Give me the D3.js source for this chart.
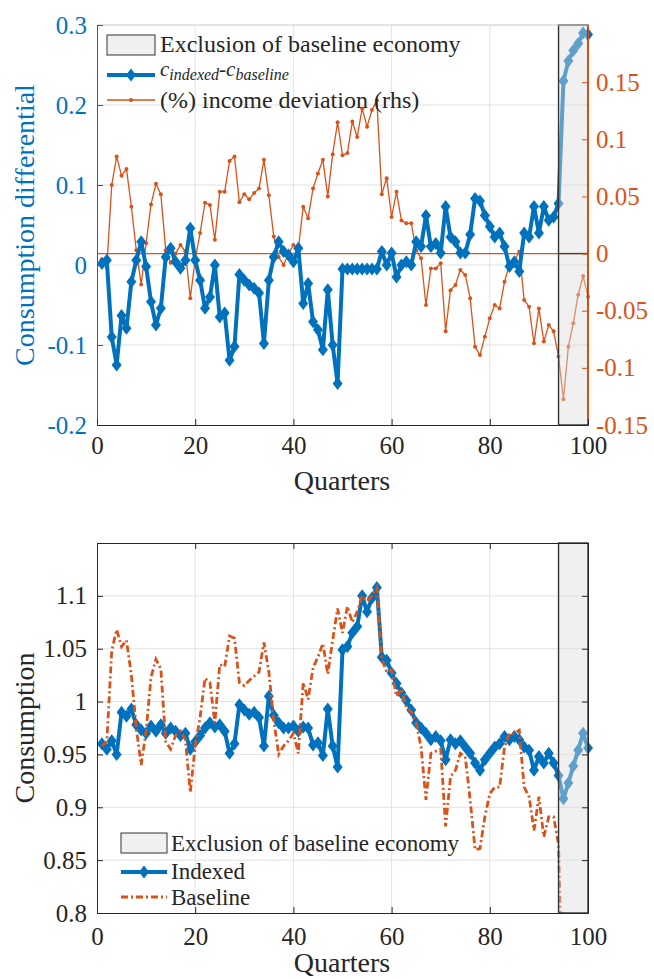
<!DOCTYPE html>
<html>
<head>
<meta charset="utf-8">
<script src="https://cdn.jsdelivr.net/npm/d3@7"></script>
<style>
  body { margin: 0; background: #fff; }
</style>
</head>
<body>
<div id="chart"></div>
<script>
// quarters 1..100
const quarters = d3.range(1, 101);

// top panel: c_indexed - c_baseline (left axis)
const diffVals = [
  0.002, 0.006, -0.09, -0.125, -0.063, -0.079, -0.021, 0.006, 0.029, -0.002,
  -0.046, -0.075, -0.054, 0.01, 0.021, 0.004, -0.004, 0.006, 0.046, 0.006,
  -0.019, -0.054, -0.04, 0.0, -0.065, -0.06, -0.119, -0.102, -0.012, -0.019,
  -0.025, -0.029, -0.035, -0.098, -0.019, 0.01, 0.029, 0.017, 0.0125, 0.004,
  0.021, -0.048, -0.023, -0.071, -0.081, -0.106, -0.031, -0.1, -0.148, -0.005,
  -0.005, -0.005, -0.005, -0.005, -0.005, -0.005, -0.005, 0.017, 0.0, 0.015,
  -0.015, 0.0, 0.004, 0.0, 0.029, 0.023, 0.062, 0.023, 0.027, 0.015,
  0.073, 0.035, 0.029, 0.015, 0.015, 0.038, 0.083, 0.08, 0.062, 0.048,
  0.035, 0.04, 0.023, -0.002, 0.004, -0.008, 0.04, 0.035, 0.073, 0.04,
  0.073, 0.056, 0.06, 0.077, 0.23, 0.255, 0.268, 0.277, 0.29, 0.288
];

// top panel: (%) income deviation (right axis)
const incomeDev = [
  -0.005, -0.012, 0.06, 0.085, 0.068, 0.074, 0.041, 0.003, -0.027, 0.009,
  0.043, 0.061, 0.052, 0.003, -0.008, 0.0, 0.0075, 0.002, -0.039, -0.005,
  0.018, 0.0445, 0.0425, 0.012, 0.054, 0.054, 0.081, 0.085, 0.045, 0.052,
  0.0475, 0.053, 0.057, 0.082, 0.051, 0.015, -0.003, -0.01, 0.0, 0.0075,
  0.004, 0.041, 0.031, 0.057, 0.07, 0.082, 0.05, 0.087, 0.115, 0.086,
  0.088, 0.1155, 0.102, 0.127, 0.111, 0.1256, 0.134, 0.052, 0.066, 0.032,
  0.054, 0.029, 0.0265, 0.0265, 0.003, -0.004, -0.045, -0.013, -0.013, -0.0085,
  -0.068, -0.032, -0.0275, -0.0144, -0.0187, -0.039, -0.0815, -0.0887, -0.0727, -0.0566,
  -0.045, -0.048, -0.0246, -0.01, -0.0066, 0.0017, -0.0406, -0.0465, -0.0785, -0.048,
  -0.077, -0.0625, -0.068, -0.09, -0.1275, -0.0815, -0.061, -0.036, -0.0196, -0.0377
];

// bottom panel: consumption, indexed economy
const indexedVals = [
  0.960, 0.955, 0.963, 0.950, 0.990, 0.986, 0.993, 0.978, 0.973, 0.970,
  0.977, 0.972, 0.978, 0.970, 0.975, 0.972, 0.968, 0.970, 0.955, 0.962,
  0.968, 0.975, 0.980, 0.976, 0.978, 0.972, 0.951, 0.960, 0.997, 0.992,
  0.988, 0.990, 0.985, 0.958, 1.005, 0.987, 0.980, 0.975, 0.975, 0.977,
  0.972, 0.976, 0.975, 0.959, 0.961, 0.949, 0.993, 0.958, 0.938, 1.049,
  1.052, 1.065, 1.071, 1.100, 1.085, 1.098, 1.108, 1.042, 1.039, 1.027,
  1.017, 1.008, 1.001, 0.992, 0.980, 0.975, 0.970, 0.964, 0.967, 0.963,
  0.945, 0.964, 0.960, 0.963, 0.957, 0.951, 0.942, 0.935, 0.945, 0.951,
  0.957, 0.960, 0.967, 0.964, 0.967, 0.964, 0.957, 0.954, 0.935, 0.948,
  0.942, 0.951, 0.942, 0.930, 0.908, 0.923, 0.939, 0.954, 0.970, 0.956
];

// bottom panel: consumption, baseline economy (collapses after q94)
const baselineVals = [
  0.958, 0.962, 1.048, 1.068, 1.052, 1.058, 1.025, 0.975, 0.940, 0.972,
  1.023, 1.040, 1.031, 0.962, 0.955, 0.968, 0.972, 0.964, 0.914, 0.958,
  0.985, 1.022, 1.018, 0.980, 1.035, 1.033, 1.062, 1.060, 1.018, 1.015,
  1.020, 1.024, 1.028, 1.056, 1.028, 0.982, 0.950, 0.958, 0.963, 0.970,
  0.951, 1.018, 1.002, 1.032, 1.042, 1.055, 1.026, 1.058, 1.088, 1.065,
  1.090, 1.075, 1.085, 1.100, 1.095, 1.100, 1.108, 1.040, 1.028, 1.030,
  1.005, 1.012, 0.995, 0.990, 0.980, 0.957, 0.907, 0.951, 0.953, 0.955,
  0.882, 0.929, 0.935, 0.951, 0.948, 0.907, 0.860, 0.861, 0.891, 0.913,
  0.919, 0.919, 0.957, 0.970, 0.970, 0.973, 0.919, 0.910, 0.878, 0.910,
  0.872, 0.891, 0.891, 0.865, 0.680
];

// excluded window (quarters)
const exclusion = [94, 100];

// ticks
const xTicks = [0, 20, 40, 60, 80, 100];
const topLeftTicks = [-0.2, -0.1, 0, 0.1, 0.2, 0.3];
const topLeftLabels = ["-0.2", "-0.1", "0", "0.1", "0.2", "0.3"];
const topRightTicks = [-0.15, -0.1, -0.05, 0, 0.05, 0.1, 0.15];
const topRightLabels = ["-0.15", "-0.1", "-0.05", "0", "0.05", "0.1", "0.15"];
const botTicks = [0.8, 0.85, 0.9, 0.95, 1, 1.05, 1.1, 1.15];
const botLabels = ["0.8", "0.85", "0.9", "0.95", "1", "1.05", "1.1", ""];

const blue = "#0072BD", orange = "#D95319", dark = "#262626", gridCol = "#e2e2e2";
const patchFill = "#dcdcdc", patchAlpha = 0.43, patchEdge = "#333";
const diamond = "M0,-6.5L5,0L0,6.5L-5,0Z";
const serif = "'Liberation Serif', 'DejaVu Serif', serif";

const svg = d3.select("#chart")
  .append("svg")
  .attr("width", 654)
  .attr("height", 979);

const x = d3.scaleLinear().domain([0, 100]).range([97, 588]);

// ---------- top panel ----------
const yL = d3.scaleLinear().domain([-0.2, 0.3]).range([425, 25]);
const yR = d3.scaleLinear().domain([-0.15, 0.2]).range([425, 25]);
const topG = svg.append("g");

// grid
topG.append("g").selectAll("line").data(xTicks.slice(1, -1)).enter().append("line")
  .attr("x1", d => x(d)).attr("x2", d => x(d)).attr("y1", 25).attr("y2", 425)
  .attr("stroke", gridCol);
topG.append("g").selectAll("line").data(topLeftTicks.slice(1, -1)).enter().append("line")
  .attr("x1", 97).attr("x2", 588).attr("y1", d => yL(d)).attr("y2", d => yL(d))
  .attr("stroke", gridCol);

// rhs zero line
topG.append("line")
  .attr("x1", 97).attr("x2", 588).attr("y1", yR(0)).attr("y2", yR(0))
  .attr("stroke", orange).attr("stroke-width", 1.2);

// income deviation
const lineR = d3.line().x((d, i) => x(quarters[i])).y(d => yR(d));
topG.append("path").datum(incomeDev)
  .attr("d", lineR).attr("fill", "none").attr("stroke", orange).attr("stroke-width", 1.3);
topG.append("g").selectAll("circle").data(incomeDev).enter().append("circle")
  .attr("cx", (d, i) => x(quarters[i])).attr("cy", d => yR(d)).attr("r", 2)
  .attr("fill", orange);

// consumption differential
const lineL = d3.line().x((d, i) => x(quarters[i])).y(d => yL(d));
topG.append("path").datum(diffVals)
  .attr("d", lineL).attr("fill", "none").attr("stroke", blue)
  .attr("stroke-width", 4).attr("stroke-linejoin", "round");
topG.append("g").selectAll("path").data(diffVals).enter().append("path")
  .attr("d", diamond)
  .attr("transform", (d, i) => `translate(${x(quarters[i])},${yL(d)})`)
  .attr("fill", blue);

// exclusion patch
topG.append("rect")
  .attr("x", x(exclusion[0])).attr("y", 25)
  .attr("width", x(exclusion[1]) - x(exclusion[0])).attr("height", 400)
  .attr("fill", patchFill).attr("fill-opacity", patchAlpha)
  .attr("stroke", patchEdge).attr("stroke-width", 1.4);
topG.append("line")
  .attr("x1", x(exclusion[0])).attr("x2", x(exclusion[1]))
  .attr("y1", yR(0)).attr("y2", yR(0))
  .attr("stroke", "#444").attr("stroke-width", 1.4);

// axes
topG.append("line").attr("x1", 97).attr("x2", 588).attr("y1", 25).attr("y2", 25)
  .attr("stroke", "#c8c8c8");
const axL = topG.append("g").attr("transform", "translate(97,0)")
  .call(d3.axisLeft(yL).tickValues(topLeftTicks).tickFormat((d, i) => topLeftLabels[i])
    .tickSizeInner(-6).tickSizeOuter(0).tickPadding(10));
axL.selectAll("path,line").attr("stroke", blue);
axL.selectAll("text").attr("fill", blue).style("font-size", "25px");

const axR = topG.append("g").attr("transform", "translate(588,0)")
  .call(d3.axisRight(yR).tickValues(topRightTicks).tickFormat((d, i) => topRightLabels[i])
    .tickSizeInner(-6).tickSizeOuter(0).tickPadding(8));
axR.selectAll("path,line").attr("stroke", orange);
axR.selectAll("text").attr("fill", orange).style("font-size", "25px");

const axB1 = topG.append("g").attr("transform", "translate(0,425)")
  .call(d3.axisBottom(x).tickValues(xTicks).tickSizeInner(-6).tickSizeOuter(0).tickPadding(11));
axB1.selectAll("path,line").attr("stroke", dark);
axB1.selectAll("text").attr("fill", dark).style("font-size", "25px");

topG.append("text").attr("x", 342).attr("y", 490).attr("text-anchor", "middle")
  .attr("fill", dark).style("font-size", "28px").text("Quarters");
topG.append("text").attr("transform", "translate(34,225) rotate(-90)")
  .attr("text-anchor", "middle").attr("fill", blue).style("font-size", "28px")
  .text("Consumption differential");

// legend
const lg1 = topG.append("g");
lg1.append("rect").attr("x", 107).attr("y", 35).attr("width", 48).attr("height", 20)
  .attr("fill", "#f0f0f0").attr("stroke", patchEdge);
lg1.append("text").attr("x", 160).attr("y", 52).attr("fill", dark).style("font-size", "24px")
  .text("Exclusion of baseline economy");
lg1.append("line").attr("x1", 107).attr("x2", 155).attr("y1", 75).attr("y2", 75)
  .attr("stroke", blue).attr("stroke-width", 4);
lg1.append("path").attr("d", diamond).attr("transform", "translate(131,75)").attr("fill", blue);
const ct = lg1.append("text").attr("x", 160).attr("y", 76).attr("fill", dark)
  .style("font-style", "italic");
ct.append("tspan").style("font-size", "21px").text("c");
ct.append("tspan").style("font-size", "16px").attr("dy", 4).text("indexed");
ct.append("tspan").style("font-size", "21px").attr("dy", -4).text("-c");
ct.append("tspan").style("font-size", "16px").attr("dy", 4).text("baseline");
lg1.append("line").attr("x1", 107).attr("x2", 155).attr("y1", 100).attr("y2", 100)
  .attr("stroke", orange).attr("stroke-width", 1.3);
lg1.append("circle").attr("cx", 131).attr("cy", 100).attr("r", 2).attr("fill", orange);
lg1.append("text").attr("x", 160).attr("y", 108).attr("fill", dark).style("font-size", "24px")
  .text("(%) income deviation (rhs)");

// ---------- bottom panel ----------
const yB = d3.scaleLinear().domain([0.8, 1.15]).range([913, 543]);
const botG = svg.append("g");

svg.append("defs").append("clipPath").attr("id", "clipB")
  .append("rect").attr("x", 97).attr("y", 543).attr("width", 491).attr("height", 370);

botG.append("g").selectAll("line").data(xTicks.slice(1, -1)).enter().append("line")
  .attr("x1", d => x(d)).attr("x2", d => x(d)).attr("y1", 543).attr("y2", 913)
  .attr("stroke", gridCol);
botG.append("g").selectAll("line").data(botTicks.slice(1, -1)).enter().append("line")
  .attr("x1", 97).attr("x2", 588).attr("y1", d => yB(d)).attr("y2", d => yB(d))
  .attr("stroke", gridCol);

const lineB = d3.line().x((d, i) => x(quarters[i])).y(d => yB(d));
botG.append("path").datum(indexedVals)
  .attr("d", lineB).attr("fill", "none").attr("stroke", blue)
  .attr("stroke-width", 4).attr("stroke-linejoin", "round");
botG.append("g").selectAll("path").data(indexedVals).enter().append("path")
  .attr("d", diamond)
  .attr("transform", (d, i) => `translate(${x(quarters[i])},${yB(d)})`)
  .attr("fill", blue);
botG.append("path").datum(baselineVals)
  .attr("clip-path", "url(#clipB)")
  .attr("d", lineB).attr("fill", "none").attr("stroke", orange)
  .attr("stroke-width", 2.8).attr("stroke-dasharray", "7,3,2,3");

botG.append("rect")
  .attr("x", x(exclusion[0])).attr("y", 543)
  .attr("width", x(exclusion[1]) - x(exclusion[0])).attr("height", 370)
  .attr("fill", patchFill).attr("fill-opacity", patchAlpha)
  .attr("stroke", patchEdge).attr("stroke-width", 1.4);

const axB2 = botG.append("g").attr("transform", "translate(0,913)")
  .call(d3.axisBottom(x).tickValues(xTicks).tickSizeInner(-6).tickSizeOuter(0).tickPadding(14));
const axT2 = botG.append("g").attr("transform", "translate(0,543)")
  .call(d3.axisTop(x).tickValues(xTicks).tickSizeInner(-6).tickSizeOuter(0).tickFormat(""));
const axL2 = botG.append("g").attr("transform", "translate(97,0)")
  .call(d3.axisLeft(yB).tickValues(botTicks).tickFormat((d, i) => botLabels[i])
    .tickSizeInner(-6).tickSizeOuter(0).tickPadding(10));
const axR2 = botG.append("g").attr("transform", "translate(588,0)")
  .call(d3.axisRight(yB).tickValues(botTicks).tickSizeInner(-6).tickSizeOuter(0).tickFormat(""));
[axB2, axT2, axL2, axR2].forEach(a => {
  a.selectAll("path,line").attr("stroke", dark);
  a.selectAll("text").attr("fill", dark).style("font-size", "25px");
});

botG.append("text").attr("x", 342).attr("y", 972).attr("text-anchor", "middle")
  .attr("fill", dark).style("font-size", "28px").text("Quarters");
botG.append("text").attr("transform", "translate(34,728) rotate(-90)")
  .attr("text-anchor", "middle").attr("fill", dark).style("font-size", "28px")
  .text("Consumption");

const lg2 = botG.append("g");
lg2.append("rect").attr("x", 121).attr("y", 833).attr("width", 46).attr("height", 20)
  .attr("fill", "#f0f0f0").attr("stroke", patchEdge);
lg2.append("text").attr("x", 171).attr("y", 851).attr("fill", dark).style("font-size", "23px")
  .text("Exclusion of baseline economy");
lg2.append("line").attr("x1", 121).attr("x2", 167).attr("y1", 872).attr("y2", 872)
  .attr("stroke", blue).attr("stroke-width", 4);
lg2.append("path").attr("d", diamond).attr("transform", "translate(144,872)").attr("fill", blue);
lg2.append("text").attr("x", 171).attr("y", 879).attr("fill", dark).style("font-size", "23px")
  .text("Indexed");
lg2.append("line").attr("x1", 121).attr("x2", 167).attr("y1", 897).attr("y2", 897)
  .attr("stroke", orange).attr("stroke-width", 2.8).attr("stroke-dasharray", "7,3,2,3");
lg2.append("text").attr("x", 171).attr("y", 905).attr("fill", dark).style("font-size", "23px")
  .text("Baseline");

// serif type everywhere (axis groups set their own family)
svg.selectAll("g").attr("font-family", null);
svg.selectAll("text").style("font-family", serif);
</script>
</body>
</html>
